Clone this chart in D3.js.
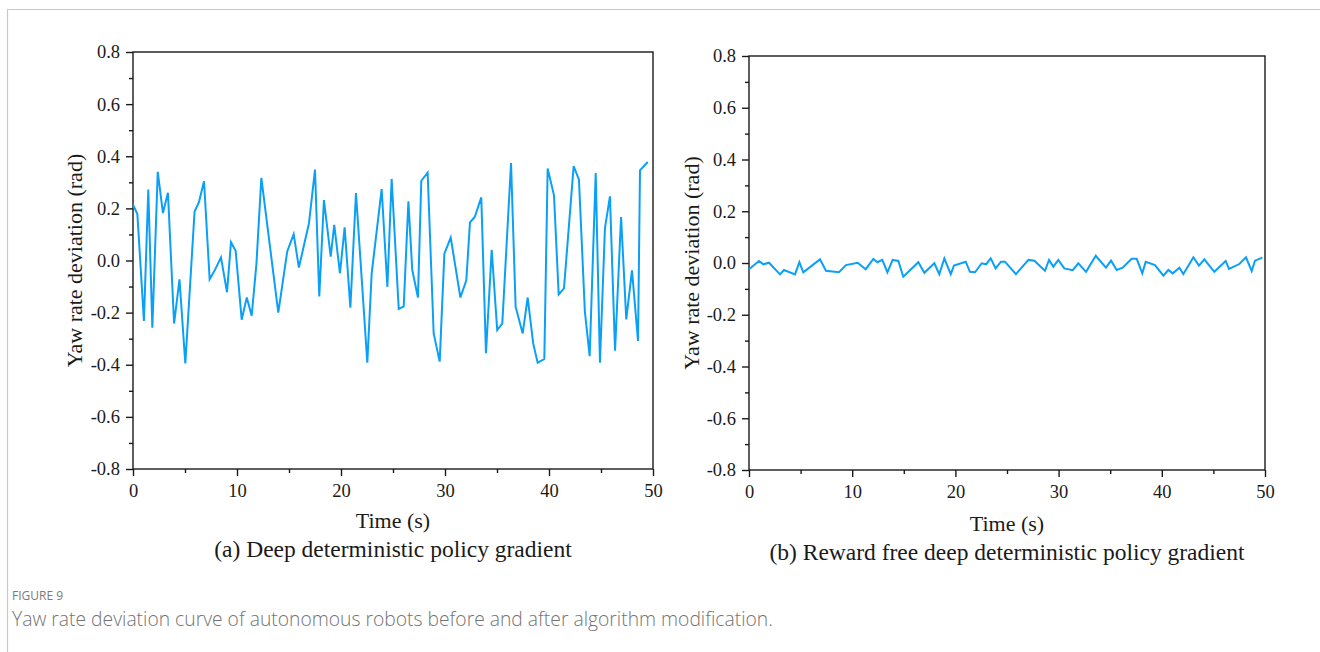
<!DOCTYPE html>
<html>
<head>
<meta charset="utf-8">
<script src="https://cdn.jsdelivr.net/npm/d3@7"></script>
<style>
  body { margin: 0; background: #fff; }
  svg { display: block; }
</style>
</head>
<body>
<div id="figure"></div>
<script>
// values: time (s) and yaw rate deviation (rad)
var timeA = [0, 0.42, 1.05, 1.47, 1.86, 2.38, 2.88, 3.36, 3.95, 4.47, 5.03, 5.92, 6.34, 6.83, 7.37, 7.88, 8.46, 9.04, 9.42, 9.87,
  10.45, 10.94, 11.41, 11.87, 12.34, 13.97, 14.83, 15.45, 15.95, 16.92, 17.5, 17.91, 18.36, 19.01, 19.35, 19.9,
  20.35, 20.9, 21.44, 22.53, 22.95, 23.91, 24.46, 24.87, 25.55, 26.03, 26.48, 26.85, 27.4, 27.72, 28.33, 28.91, 29.49,
  29.94, 30.55, 31.48, 32.05, 32.4, 32.86, 33.49, 33.94, 34.49, 35.02, 35.51, 36.35, 36.79, 37.47, 37.95, 38.48, 38.91,
  39.55, 39.87, 40.48, 40.93, 41.44, 42.37, 42.88, 43.45, 43.91, 44.49, 44.9, 45.38, 45.86, 46.35, 46.93, 47.43,
  47.98, 48.56, 48.75, 49.49];
var yawA = [0.214, 0.178, -0.232, 0.272, -0.258, 0.340, 0.182, 0.260, -0.242, -0.072, -0.395, 0.188, 0.224, 0.304, -0.072, -0.036, 0.012, -0.122, 0.070, 0.037,
  -0.227, -0.142, -0.212, -0.012, 0.317, -0.200, 0.035, 0.101, -0.027, 0.143, 0.349, -0.138, 0.232, 0.015, 0.137, -0.049,
  0.127, -0.181, 0.259, -0.392, -0.049, 0.274, -0.101, 0.313, -0.186, -0.176, 0.227, -0.036, -0.142, 0.306, 0.337, -0.280, -0.388,
  0.026, 0.088, -0.142, -0.076, 0.146, 0.167, 0.242, -0.356, 0.041, -0.267, -0.241, 0.374, -0.177, -0.280, -0.142, -0.318, -0.392,
  -0.378, 0.353, 0.250, -0.130, -0.107, 0.362, 0.310, -0.196, -0.367, 0.336, -0.392, 0.124, 0.246, -0.346, 0.167, -0.226,
  -0.038, -0.309, 0.346, 0.378];

var timeB = [0, 0.97, 1.39, 1.94, 3.0, 3.39, 4.46, 4.88, 5.26, 6.88, 7.46, 8.72, 9.4, 10.53, 11.31, 12.05, 12.44, 12.92, 13.41, 13.92,
  14.47, 14.95, 16.41, 16.99, 17.96, 18.44, 18.93, 19.55, 19.86, 21.0, 21.41, 21.9, 22.55, 22.97, 23.42, 23.9, 24.42, 24.8,
  25.87, 27.08, 27.65, 28.68, 29.07, 29.49, 29.97, 30.55, 31.37, 31.91, 32.66, 33.6, 34.59, 35.08, 35.63, 36.21, 37.08, 37.57,
  38.11, 38.44, 39.34, 40.15, 40.63, 41.06, 41.7, 42.09, 43.06, 43.6, 44.12, 45.09, 46.19, 46.51, 47.51, 48.16, 48.71, 49.03, 49.74];
var yawB = [-0.024, 0.008, -0.005, 0.001, -0.044, -0.027, -0.044, 0.003, -0.036, 0.014, -0.030, -0.036, -0.008, 0.001, -0.024, 0.016, 0.003, 0.012, -0.036, 0.012,
  0.008, -0.053, 0.003, -0.038, -0.001, -0.043, 0.018, -0.043, -0.010, 0.005, -0.034, -0.036, -0.001, -0.005, 0.018, -0.021, 0.005, 0.005,
  -0.043, 0.012, 0.009, -0.030, 0.012, -0.014, 0.012, -0.021, -0.028, -0.001, -0.034, 0.028, -0.018, 0.009, -0.027, -0.018, 0.016, 0.016,
  -0.040, 0.005, -0.008, -0.049, -0.027, -0.040, -0.018, -0.043, 0.022, -0.010, 0.014, -0.034, 0.008, -0.023, -0.004, 0.022, -0.031, 0.009, 0.021];

var yTicks = [-0.8, -0.6, -0.4, -0.2, 0.0, 0.2, 0.4, 0.6, 0.8];
var yMinor = [-0.7, -0.5, -0.3, -0.1, 0.1, 0.3, 0.5, 0.7];
var xTicks = [0, 10, 20, 30, 40, 50];
var xMinor = [5, 15, 25, 35, 45];

var W = 1320, H = 652;
var lineColor = "#0aa0f7";
var ink = "#1a1a1a";
var serif = "'Liberation Serif', 'Times New Roman', serif";

var svg = d3.select("#figure").append("svg")
    .attr("width", W)
    .attr("height", H);

// outer figure frame
svg.append("path")
    .attr("d", "M7.5," + H + "V9.5H" + W)
    .attr("fill", "none")
    .attr("stroke", "#c9c9c9")
    .attr("stroke-width", 1.2);

function drawPanel(p) {
  var x = d3.scaleLinear().domain([0, 50]).range([p.left, p.right]);
  var y = d3.scaleLinear().domain([-0.8, 0.8]).range([p.bottom, p.top]);
  var g = svg.append("g");

  // box
  g.append("rect")
      .attr("x", p.left).attr("y", p.top)
      .attr("width", p.right - p.left).attr("height", p.bottom - p.top)
      .attr("fill", "none").attr("stroke", ink).attr("stroke-width", 1.4);

  // minor ticks
  g.append("g").attr("transform", "translate(" + p.left + ",0)")
      .call(d3.axisLeft(y).tickValues(yMinor).tickSize(4).tickFormat(""))
      .call(s => s.select(".domain").remove());
  g.append("g").attr("transform", "translate(0," + p.bottom + ")")
      .call(d3.axisBottom(x).tickValues(xMinor).tickSize(4).tickFormat(""))
      .call(s => s.select(".domain").remove());

  // major ticks + labels
  var ya = g.append("g").attr("transform", "translate(" + p.left + ",0)")
      .call(d3.axisLeft(y).tickValues(yTicks).tickSize(7).tickPadding(6).tickFormat(d => d.toFixed(1)));
  var xa = g.append("g").attr("transform", "translate(0," + p.bottom + ")")
      .call(d3.axisBottom(x).tickValues(xTicks).tickSize(7).tickPadding(8).tickFormat(d => d));
  [ya, xa].forEach(function(a) {
    a.select(".domain").remove();
    a.selectAll("text").attr("font-family", serif).attr("font-size", 18.5).attr("fill", ink);
  });
  g.selectAll(".tick line").attr("stroke", ink).attr("stroke-width", 1.4);

  // series
  var line = d3.line().x(d => x(d[0])).y(d => y(d[1]));
  g.append("path")
      .datum(d3.zip(p.time, p.yaw))
      .attr("d", line)
      .attr("fill", "none")
      .attr("stroke", lineColor)
      .attr("stroke-width", 2)
      .attr("stroke-linejoin", "miter");

  // titles
  g.append("text")
      .attr("transform", "translate(" + p.yTitleX + "," + (p.top + p.bottom) / 2 + ") rotate(-90)")
      .attr("text-anchor", "middle")
      .attr("font-family", serif).attr("font-size", 22).attr("fill", ink)
      .text("Yaw rate deviation (rad)");
  g.append("text")
      .attr("x", (p.left + p.right) / 2).attr("y", p.xTitleY)
      .attr("text-anchor", "middle")
      .attr("font-family", serif).attr("font-size", 22).attr("fill", ink)
      .text("Time (s)");
  g.append("text")
      .attr("x", (p.left + p.right) / 2).attr("y", p.subY)
      .attr("text-anchor", "middle")
      .attr("font-family", serif).attr("font-size", 23.5).attr("fill", ink)
      .text(p.sub);
}

drawPanel({left: 133, right: 653, top: 52, bottom: 469, time: timeA, yaw: yawA,
  yTitleX: 82, xTitleY: 528, subY: 557, sub: "(a) Deep deterministic policy gradient"});
drawPanel({left: 749, right: 1265, top: 56, bottom: 470, time: timeB, yaw: yawB,
  yTitleX: 699, xTitleY: 531, subY: 560, sub: "(b) Reward free deep deterministic policy gradient"});

// caption
svg.append("text")
    .attr("x", 12).attr("y", 600)
    .attr("font-family", "'Open Sans', 'Noto Sans', sans-serif")
    .attr("font-size", 12).attr("fill", "#7a7a7a")
    .text("FIGURE 9");
svg.append("text")
    .attr("x", 12).attr("y", 626)
    .attr("font-family", "'Open Sans', 'Noto Sans', sans-serif")
    .attr("font-weight", 300)
    .attr("font-size", 19.3).attr("fill", "#747474")
    .text("Yaw rate deviation curve of autonomous robots before and after algorithm modification.");
</script>
</body>
</html>
